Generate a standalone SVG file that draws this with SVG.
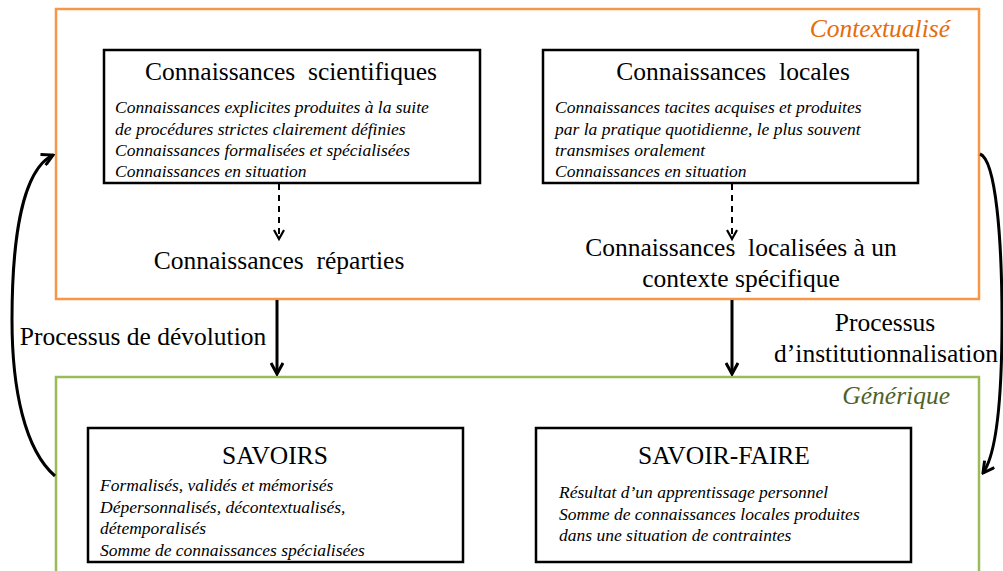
<svg xmlns="http://www.w3.org/2000/svg" width="1003" height="571" viewBox="0 0 1003 571">
<defs>
<marker id="v" viewBox="0 0 12 12" refX="10" refY="6" markerWidth="12" markerHeight="12" markerUnits="userSpaceOnUse" orient="auto">
<path d="M1,1 L10,6 L1,11" fill="none" stroke="#000" stroke-width="2.2"/>
</marker>
<marker id="vb" viewBox="0 0 14 14" refX="12" refY="7" markerWidth="14" markerHeight="14" markerUnits="userSpaceOnUse" orient="auto">
<path d="M1,1 L12,7 L1,13" fill="none" stroke="#000" stroke-width="3"/>
</marker>
</defs>
<rect width="1003" height="571" fill="#fff"/>
<g id="contextualise">
<rect x="56" y="9" width="923" height="290" fill="none" stroke="#F79646" stroke-width="2.5"/>
<text style="font-family:'Liberation Serif','Times New Roman',serif" font-size="25.5" font-style="italic" text-anchor="end" x="950" y="37" fill="#E46C0A">Contextualisé</text>
</g>
<g id="generique">
<rect x="56" y="377" width="923" height="220" fill="none" stroke="#9BBB59" stroke-width="2.5"/>
<text style="font-family:'Liberation Serif','Times New Roman',serif" font-size="25.5" font-style="italic" text-anchor="end" x="950" y="404" fill="#4F6228">Générique</text>
</g>
<g id="connectors" fill="none" stroke="#000">
<line x1="279" y1="184" x2="279" y2="239" stroke-width="2" stroke-dasharray="6,5" marker-end="url(#v)"/>
<line x1="732" y1="184" x2="732" y2="239" stroke-width="2" stroke-dasharray="6,5" marker-end="url(#v)"/>
<line x1="277" y1="300" x2="277" y2="374" stroke-width="3" marker-end="url(#vb)"/>
<line x1="732" y1="300" x2="732" y2="374" stroke-width="3" marker-end="url(#vb)"/>
<path d="M55,476 C25,450 12,390 12,320 C12,240 22,170 53,155" stroke-width="3" marker-end="url(#vb)"/>
<path d="M980,154 C996,160 1002,240 1002,320 C1002,400 996,455 983,473" stroke-width="3" marker-end="url(#vb)"/>
</g>
<g id="n-sci">
<rect x="104" y="50" width="376" height="133" fill="#fff" stroke="#000" stroke-width="2.5"/>
<text style="font-family:'Liberation Serif','Times New Roman',serif" font-size="25.5" text-anchor="middle" x="291" y="80" xml:space="preserve">Connaissances  scientifiques</text>
<g font-size="17.5" font-style="italic">
<text style="font-family:'Liberation Serif','Times New Roman',serif" x="115" y="113">Connaissances explicites produites à la suite</text>
<text style="font-family:'Liberation Serif','Times New Roman',serif" x="115" y="135">de procédures strictes clairement définies</text>
<text style="font-family:'Liberation Serif','Times New Roman',serif" x="115" y="156">Connaissances formalisées et spécialisées</text>
<text style="font-family:'Liberation Serif','Times New Roman',serif" x="115" y="177">Connaissances en situation</text>
</g>
</g>
<g id="n-loc">
<rect x="543" y="50" width="375" height="133" fill="#fff" stroke="#000" stroke-width="2.5"/>
<text style="font-family:'Liberation Serif','Times New Roman',serif" font-size="25.5" text-anchor="middle" x="733" y="80" xml:space="preserve">Connaissances  locales</text>
<g font-size="17.5" font-style="italic">
<text style="font-family:'Liberation Serif','Times New Roman',serif" x="555" y="113">Connaissances tacites acquises et produites</text>
<text style="font-family:'Liberation Serif','Times New Roman',serif" x="555" y="135">par la pratique quotidienne, le plus souvent</text>
<text style="font-family:'Liberation Serif','Times New Roman',serif" x="555" y="156">transmises oralement</text>
<text style="font-family:'Liberation Serif','Times New Roman',serif" x="555" y="177">Connaissances en situation</text>
</g>
</g>
<g id="n-rep">
<text style="font-family:'Liberation Serif','Times New Roman',serif" font-size="25.5" text-anchor="middle" x="279" y="269" xml:space="preserve">Connaissances  réparties</text>
</g>
<g id="n-ctx" font-size="25.5" text-anchor="middle">
<text style="font-family:'Liberation Serif','Times New Roman',serif" x="741" y="256" xml:space="preserve">Connaissances  localisées à un</text>
<text style="font-family:'Liberation Serif','Times New Roman',serif" x="741" y="287">contexte spécifique</text>
</g>
<g id="l-dev">
<text style="font-family:'Liberation Serif','Times New Roman',serif" font-size="25.5" text-anchor="middle" x="143" y="345">Processus de dévolution</text>
</g>
<g id="l-inst" font-size="25.5" text-anchor="middle">
<text style="font-family:'Liberation Serif','Times New Roman',serif" x="885" y="331">Processus</text>
<text style="font-family:'Liberation Serif','Times New Roman',serif" x="886" y="362">d’institutionnalisation</text>
</g>
<g id="n-savoirs">
<rect x="88" y="428" width="375" height="134" fill="#fff" stroke="#000" stroke-width="2.5"/>
<text style="font-family:'Liberation Serif','Times New Roman',serif" font-size="25.5" text-anchor="middle" x="275" y="464">SAVOIRS</text>
<g font-size="17.5" font-style="italic">
<text style="font-family:'Liberation Serif','Times New Roman',serif" x="100" y="491">Formalisés, validés et mémorisés</text>
<text style="font-family:'Liberation Serif','Times New Roman',serif" x="100" y="513">Dépersonnalisés, décontextualisés,</text>
<text style="font-family:'Liberation Serif','Times New Roman',serif" x="100" y="534">détemporalisés</text>
<text style="font-family:'Liberation Serif','Times New Roman',serif" x="100" y="556">Somme de connaissances spécialisées</text>
</g>
</g>
<g id="n-sf">
<rect x="536" y="428" width="375" height="134" fill="#fff" stroke="#000" stroke-width="2.5"/>
<text style="font-family:'Liberation Serif','Times New Roman',serif" font-size="25.5" text-anchor="middle" x="724" y="464">SAVOIR-FAIRE</text>
<g font-size="17.5" font-style="italic">
<text style="font-family:'Liberation Serif','Times New Roman',serif" x="559" y="498">Résultat d’un apprentissage personnel</text>
<text style="font-family:'Liberation Serif','Times New Roman',serif" x="559" y="520">Somme de connaissances locales produites</text>
<text style="font-family:'Liberation Serif','Times New Roman',serif" x="559" y="541">dans une situation de contraintes</text>
</g>
</g>
</svg>
